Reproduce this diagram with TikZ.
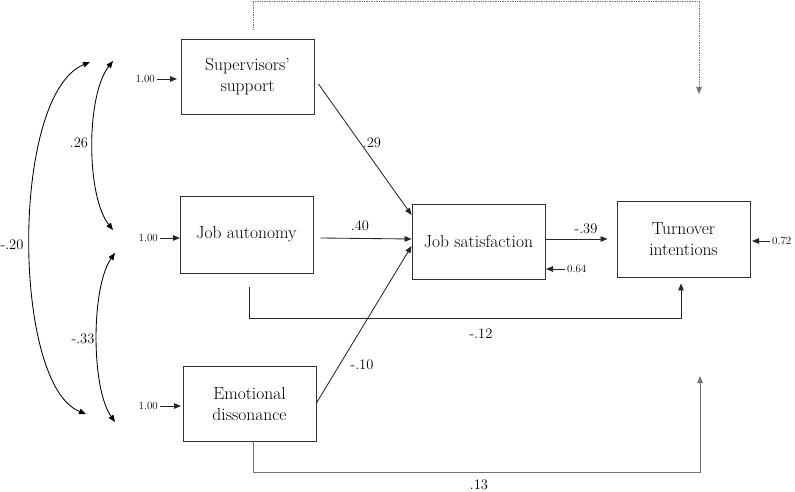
\documentclass[tikz,border=0pt]{standalone}
\usepackage{fontspec}
\usetikzlibrary{arrows.meta,calc}
\begin{document}
\begin{tikzpicture}[x=1pt,y=-1pt,
  box/.style={draw=black!80,line width=0.9pt,minimum width=133pt,align=center,inner sep=0pt,
    font=\rmfamily\fontsize{17.5}{21}\selectfont},
  lab/.style={font=\rmfamily\fontsize{14.5}{16}\selectfont,inner sep=0pt},
  small/.style={font=\rmfamily\fontsize{11}{12}\selectfont,inner sep=0pt},
  tip/.style={-{Triangle[length=7pt,width=5.5pt]}},
  path/.style={tip,line width=0.85pt,draw=black!85},
  cov/.style={{Triangle[length=7pt,width=5.5pt]}-{Triangle[length=7pt,width=5.5pt]},line width=0.85pt},
]
\useasboundingbox (0,0) rectangle (795,492);
% boxes
\node[box,minimum height=75pt] (ss) at (247.5,76.5) {Supervisors’\\support};
\node[box,minimum height=77pt] (ja) at (246.5,234.5) {Job autonomy};
\node[box,minimum height=75pt] (ed) at (249.5,403.5) {Emotional\\dissonance};
\node[box,minimum height=75pt] (js) at (478.5,241.5) {Job satisfaction};
\node[box,minimum height=76pt] (ti) at (683.5,239) {Turnover\\intentions};

% input arrows 1.00
\coordinate (ssin) at (157,79);
\coordinate (jain) at (160,238);
\coordinate (edin) at (160,406);
\node[small,anchor=east] (l1) at ([xshift=-2pt]ssin) {1.00};
\node[small,anchor=east] (l2) at ([xshift=-2pt]jain) {1.00};
\node[small,anchor=east] (l3) at ([xshift=-2pt]edin) {1.00};
\draw[path] (ssin) -- (177,79);
\draw[path] (jain) -- (180,238);
\draw[path] (edin) -- (181,406);

% residual arrows
\coordinate (jsres) at (565,269);
\coordinate (tires) at (770,241);
\draw[path] (jsres) -- (546,269);
\draw[path] (tires) -- (752,241);
\node[small,anchor=west] (l64) at ([xshift=2pt]jsres) {0.64};
\node[small,anchor=west] (l72) at ([xshift=2pt]tires) {0.72};

% paths to job satisfaction
\draw[path] ([xshift=4pt,yshift=-7.5pt]ss.east) -- ([yshift=26.5pt]js.west);
\draw[path] ([xshift=7pt,yshift=-3.5pt]ja.east) -- ([yshift=2.5pt]js.west);
\draw[path] ([yshift=0.5pt]ed.east) -- ([yshift=-4.5pt]js.west);
\draw[path] ([yshift=2.5pt]js.east) -- ([xshift=-9pt,yshift=0pt]ti.west);
\node[lab] (p29) at (372,143) {.29};
\node[lab] (p40) at (360,226) {.40};
\node[lab] (p10) at (362,365) {-.10};
\node[lab] (p39) at (586,229) {-.39};

% direct paths to turnover
\draw[path] ([xshift=2.5pt,yshift=-14pt]ja.south) |- (681,318.5) -- ([xshift=-2.5pt,yshift=-6pt]ti.south);
\node[lab] (p12) at (481,334) {-.12};
\coordinate (edend) at (700,376);
\draw[path,draw=black!55] ([xshift=3.5pt]ed.south) |- (700,472) -- (edend);
\node[lab] (p13) at (479,485) {.13};

% dotted path
\coordinate (dotend) at (699,94);
\draw[tip,densely dotted,draw=black!55,line width=0.7pt] ([xshift=5.5pt,yshift=9pt]ss.north) -- (253,1) -| (dotend);

% covariances
\draw[cov] (90,62) .. controls (10,95) and (12,385) .. (86,414);
\draw[cov] (113,61) .. controls (86,95) and (86,196) .. (113,230);
\draw[cov] (115,253) .. controls (91,287) and (91,388) .. (115,422);
\node[lab] (c20) at (12,245) {-.20};
\node[lab] (c26) at (79,143) {.26};
\node[lab] (c33) at (83,339) {-.33};
\end{tikzpicture}
\end{document}
